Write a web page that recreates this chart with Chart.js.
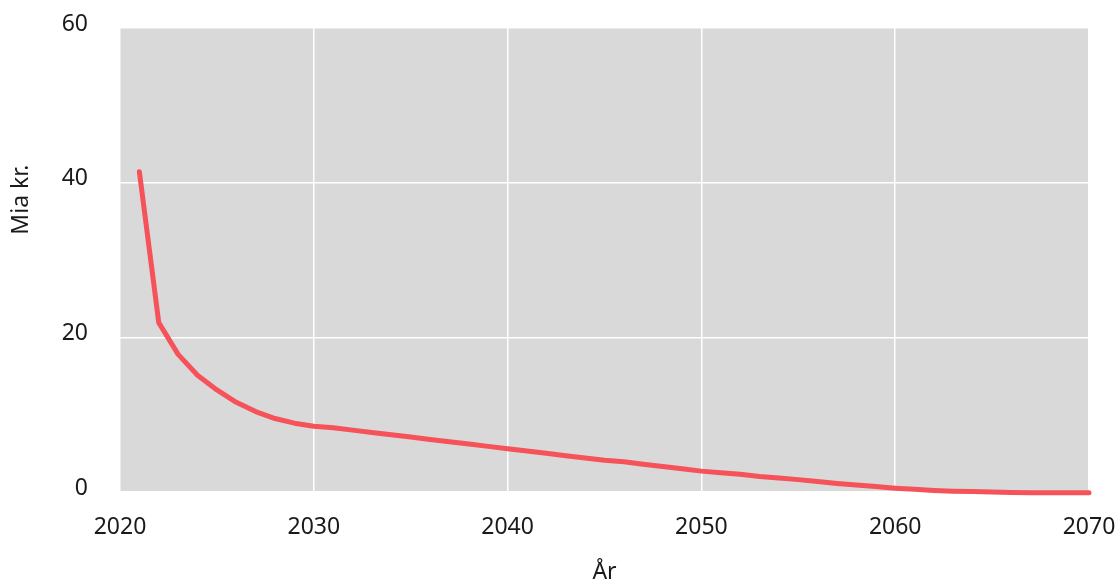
<!DOCTYPE html>
<html>
<head>
<meta charset="utf-8">
<script src="https://cdn.jsdelivr.net/npm/chart.js@4/dist/chart.umd.min.js"></script>
<style>
  html, body { margin: 0; padding: 0; background: #fff; overflow: hidden; }
  #wrap { width: 1118px; height: 581px; position: relative; }
</style>
</head>
<body>
<div id="wrap"><canvas id="graf"></canvas></div>
<script>
// Data (mia. kr. pr. år)
const years = [
  2021, 2022, 2023, 2024, 2025, 2026, 2027, 2028, 2029, 2030,
  2031, 2032, 2033, 2034, 2035, 2036, 2037, 2038, 2039, 2040,
  2041, 2042, 2043, 2044, 2045, 2046, 2047, 2048, 2049, 2050,
  2051, 2052, 2053, 2054, 2055, 2056, 2057, 2058, 2059, 2060,
  2061, 2062, 2063, 2064, 2065, 2066, 2067, 2068, 2069, 2070
];
const values = [
  41.4, 21.9, 17.8, 15.1, 13.2, 11.6, 10.4, 9.5, 8.9, 8.5,
  8.3, 8.0, 7.7, 7.4, 7.1, 6.8, 6.5, 6.2, 5.9, 5.6,
  5.3, 5.0, 4.7, 4.4, 4.1, 3.9, 3.6, 3.3, 3.0, 2.7,
  2.5, 2.3, 2.0, 1.8, 1.6, 1.35, 1.1, 0.9, 0.7, 0.5,
  0.35, 0.2, 0.1, 0.05, 0.0, -0.05, -0.1, -0.1, -0.1, -0.1
];
const xTicks = [2020, 2030, 2040, 2050, 2060, 2070];
const yTicks = [0, 20, 40, 60];
const xTitle = "År";
const yTitle = "Mia kr.";

const FONT = "'Noto Sans', 'Open Sans', sans-serif";
const TXT = "#1a1a1a";

// grå baggrund i plotområdet
const plotBg = {
  id: "plotBg",
  beforeDraw(chart) {
    const { ctx, chartArea: a } = chart;
    ctx.save();
    ctx.fillStyle = "#d9d9d9";
    ctx.fillRect(a.left, a.top, a.right - a.left, a.bottom - a.top);
    ctx.restore();
  }
};

// y-aksens titel (står lidt over midten i originalen)
const yAxisTitle = {
  id: "yAxisTitle",
  afterDraw(chart) {
    const { ctx, chartArea: a } = chart;
    ctx.save();
    ctx.translate(21, a.top + (a.bottom - a.top) * 0.37);
    ctx.rotate(-Math.PI / 2);
    ctx.font = "23px " + FONT;
    ctx.fillStyle = TXT;
    ctx.textAlign = "center";
    ctx.textBaseline = "middle";
    ctx.fillText(yTitle, 0, 0);
    ctx.restore();
  }
};

// ingen ekstra luft fra aksernes labels - plotområdet styres af layout.padding
const noPad = s => { s.paddingTop = s.paddingBottom = s.paddingLeft = s.paddingRight = 0; };

new Chart(document.getElementById("graf").getContext("2d"), {
  type: "line",
  data: {
    datasets: [{
      label: yTitle,
      data: years.map((y, i) => ({ x: y, y: values[i] })),
      borderColor: "#f5525a",
      borderWidth: 5,
      borderCapStyle: "round",
      borderJoinStyle: "round",
      pointRadius: 0,
      tension: 0,
      clip: false
    }]
  },
  options: {
    responsive: true,
    maintainAspectRatio: false,
    animation: false,
    layout: { padding: { top: 28, right: 29, left: 0, bottom: 0 } },
    plugins: { legend: { display: false }, tooltip: { enabled: false } },
    scales: {
      x: {
        type: "linear",
        min: xTicks[0],
        max: xTicks[xTicks.length - 1],
        afterBuildTicks: s => { s.ticks = xTicks.map(v => ({ value: v })); },
        afterFit: s => { s.height = 89; noPad(s); },
        border: { display: false },
        grid: { color: "#ffffff", lineWidth: 1.5, drawTicks: false },
        ticks: {
          color: TXT, padding: 22,
          font: { family: FONT, size: 23 },
          callback: v => String(v)
        },
        title: {
          display: true, text: xTitle, color: TXT,
          font: { family: FONT, size: 23 },
          padding: { top: 0, bottom: -5 }
        }
      },
      y: {
        min: yTicks[0],
        max: yTicks[yTicks.length - 1],
        afterBuildTicks: s => { s.ticks = yTicks.map(v => ({ value: v })); },
        afterFit: s => { s.width = 120; noPad(s); },
        border: { display: false },
        grid: { color: "#ffffff", lineWidth: 1.5, drawTicks: false },
        ticks: {
          color: TXT, padding: 32, labelOffset: -4,
          font: { family: FONT, size: 23 }
        }
      }
    }
  },
  plugins: [plotBg, yAxisTitle]
});
</script>
</body>
</html>
